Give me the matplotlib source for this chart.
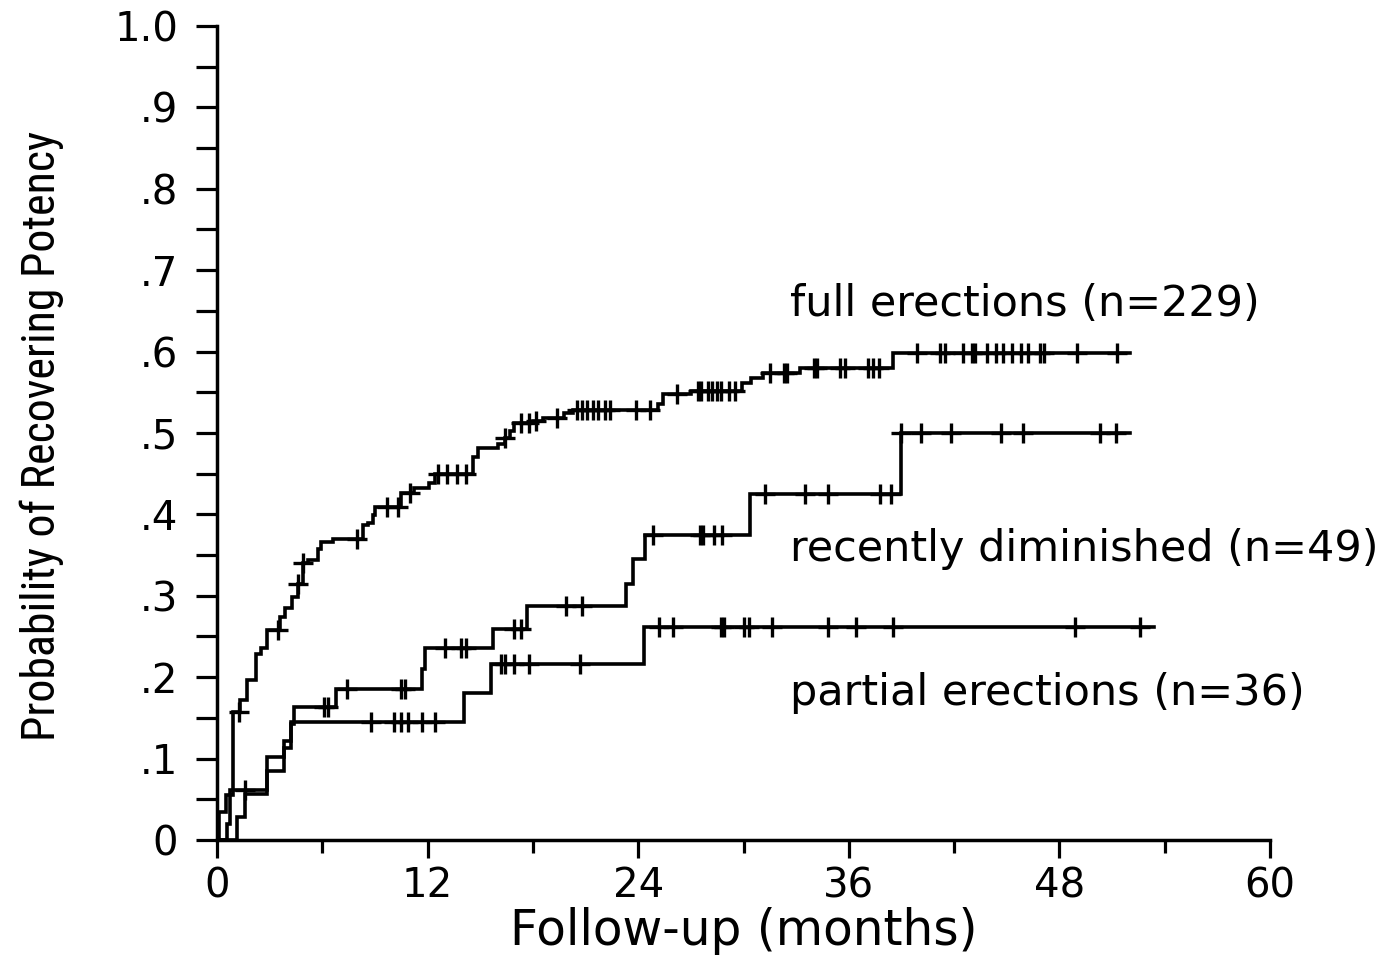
import numpy as np
import matplotlib
matplotlib.use("Agg")
import matplotlib.pyplot as plt
from matplotlib import font_manager
from matplotlib.font_manager import FontProperties
from matplotlib.ticker import MultipleLocator, FuncFormatter

# ---------------- data ----------------
full_t = [0, 0.1, 0.5, 0.9, 1.3, 1.7, 2.2, 2.5, 2.85, 3.6, 3.9, 4.3, 4.6, 4.9, 5.2, 5.75, 5.9,
          6.6, 8.3, 8.6, 8.9, 9.0, 10.5, 11.2, 12.1, 12.4, 14.6, 14.9, 16.0, 16.4, 16.7, 16.9,
          18.0, 18.6, 19.8, 20.3, 25.1, 25.4, 27.0, 29.9, 30.4, 31.1, 33.2, 38.5, 52.0]
full_p = [0, 0.034, 0.055, 0.157, 0.172, 0.196, 0.229, 0.236, 0.258, 0.274, 0.285, 0.298, 0.315,
          0.340, 0.344, 0.358, 0.366, 0.370, 0.387, 0.390, 0.399, 0.409, 0.426, 0.433, 0.439,
          0.450, 0.470, 0.481, 0.487, 0.494, 0.503, 0.512, 0.515, 0.519, 0.525, 0.528, 0.536,
          0.548, 0.552, 0.561, 0.568, 0.574, 0.580, 0.598, 0.598]
full_cens = [1.25, 3.5, 4.6, 4.9, 8.0, 9.7, 10.3, 11.0, 12.6, 13.1, 13.7, 14.2, 16.4, 17.3, 17.8,
             18.2, 19.4, 20.5, 20.8, 21.1, 21.4, 21.7, 22.1, 22.4, 23.9, 24.7, 26.2, 27.4, 27.6,
             28.0, 28.2, 28.5, 28.7, 29.2, 29.5, 31.5, 32.3, 32.5, 34.0, 34.2, 35.5, 35.8, 37.1,
             37.4, 37.7, 39.9, 41.2, 41.5, 42.5, 43.0, 43.2, 43.9, 44.4, 44.8, 45.3, 45.8, 46.2,
             46.9, 47.1, 49.0, 51.3]

rd_t = [0, 0.55, 0.75, 2.85, 3.8, 4.2, 4.4, 6.8, 11.7, 11.85, 15.7, 17.65, 23.3, 23.7, 24.4,
        30.35, 39.0, 52.0]
rd_p = [0, 0.020, 0.061, 0.102, 0.122, 0.143, 0.163, 0.186, 0.210, 0.236, 0.259, 0.287, 0.315,
        0.345, 0.375, 0.425, 0.500, 0.500]
rd_cens = [1.6, 6.1, 6.3, 7.4, 10.5, 10.7, 13.0, 13.9, 14.2, 16.9, 17.3, 19.9, 20.8, 24.85, 27.5,
           27.7, 28.3, 28.8, 31.2, 33.5, 34.8, 37.8, 38.4, 39.0, 40.1, 41.8, 44.7, 45.9, 50.3, 51.2]

pe_t = [0, 1.15, 1.6, 2.85, 3.8, 4.2, 14.1, 15.6, 24.35, 53.4]
pe_p = [0, 0.028, 0.056, 0.085, 0.113, 0.145, 0.180, 0.216, 0.262, 0.262]
pe_cens = [8.8, 10.1, 10.5, 10.9, 11.7, 12.4, 16.2, 16.4, 16.9, 17.8, 20.7, 25.2, 26.0, 28.7,
           28.9, 30.0, 30.3, 31.6, 34.8, 36.4, 38.5, 48.9, 52.6]

labels = ["full erections (n=229)", "recently diminished (n=49)", "partial erections (n=36)"]
label_pos = [(32.65, 0.659), (32.65, 0.358), (32.65, 0.180)]

x_major = [0, 12, 24, 36, 48, 60]
x_minor = [6, 18, 30, 42, 54]

# ---------------- fonts ----------------
def find_condensed():
    names = {f.name: f for f in font_manager.fontManager.ttflist}
    for n in ["Liberation Sans Narrow", "Roboto Condensed", "Open Sans Condensed",
              "Noto Sans Condensed", "DejaVu Sans Condensed", "Arial Narrow"]:
        if n in names:
            return FontProperties(fname=names[n].fname)
    best = None
    for f in font_manager.fontManager.ttflist:
        fn = f.fname.lower()
        if ("condensed" in fn or "narrow" in fn) and "semi" not in fn and "extra" not in fn \
                and "bold" not in fn and "italic" not in fn and "light" not in fn \
                and "black" not in fn and "thin" not in fn and "medium" not in fn \
                and "mono" not in fn and "serif" not in fn.replace("sans", ""):
            if "dejavu" in fn or "liberation" in fn or "noto" in fn or "roboto" in fn:
                best = f
                break
    if best is not None:
        return FontProperties(fname=best.fname)
    return None

cond = find_condensed()

# ---------------- figure ----------------
fig = plt.figure(figsize=(13.82, 9.56), dpi=100)
W, H = 1382, 956
ax = fig.add_axes([217 / W, (H - 840) / H, 1053 / W, 814 / H])
ax.set_xlim(0, 60)
ax.set_ylim(0, 1.0)

for s in ["top", "right"]:
    ax.spines[s].set_visible(False)
for s in ["left", "bottom"]:
    ax.spines[s].set_linewidth(2.5)
    ax.spines[s].set_color("black")

lw = 2.6
for t, p, c in [(full_t, full_p, full_cens), (rd_t, rd_p, rd_cens), (pe_t, pe_p, pe_cens)]:
    ax.step(t, p, where="post", color="black", lw=lw, solid_joinstyle="miter")
    ta = np.asarray(t)
    pa = np.asarray(p)
    idx = np.searchsorted(ta, np.asarray(c), side="right") - 1
    ax.plot(c, pa[idx], linestyle="none", marker="+", ms=15, mew=2.4, color="black")

ax.xaxis.set_major_locator(plt.FixedLocator(x_major))
ax.xaxis.set_minor_locator(plt.FixedLocator(x_minor))
ax.yaxis.set_major_locator(MultipleLocator(0.1))
ax.yaxis.set_minor_locator(MultipleLocator(0.05))

def yfmt(v, pos):
    if abs(v - 1) < 1e-9:
        return "1.0"
    if abs(v) < 1e-9:
        return "0"
    return ".%d" % round(v * 10)

ax.yaxis.set_major_formatter(FuncFormatter(yfmt))
ax.tick_params(axis="x", which="major", direction="out", length=13, width=2.3, pad=6,
               labelsize=29)
ax.tick_params(axis="x", which="minor", direction="out", length=9.5, width=2.3)
ax.tick_params(axis="y", which="both", direction="out", length=15, width=2.3, pad=13,
               labelsize=29)
for lab in ax.get_xticklabels() + ax.get_yticklabels():
    lab.set_family("DejaVu Sans")

ax.text(0.5, -0.112, "Follow-up (months)", transform=ax.transAxes, ha="center", va="center",
        fontsize=35, family="DejaVu Sans")
ylab = "Probability of Recovering Potency"
if cond is not None:
    t = ax.text(-0.166, 0.497, ylab, transform=ax.transAxes, rotation=90, ha="center",
                va="center", fontproperties=cond)
    t.set_fontsize(36)
    fig.canvas.draw()
    h = t.get_window_extent().height
    if h > 0:
        t.set_fontsize(36 * 610.0 / h)
else:
    ax.text(-0.166, 0.497, ylab, transform=ax.transAxes, rotation=90, ha="center",
            va="center", fontsize=27, family="DejaVu Sans")

for lab, (x, y) in zip(labels, label_pos):
    ax.text(x, y, lab, ha="left", va="center", fontsize=31, family="DejaVu Sans")

fig.savefig("out.png", dpi=100, facecolor="white")
